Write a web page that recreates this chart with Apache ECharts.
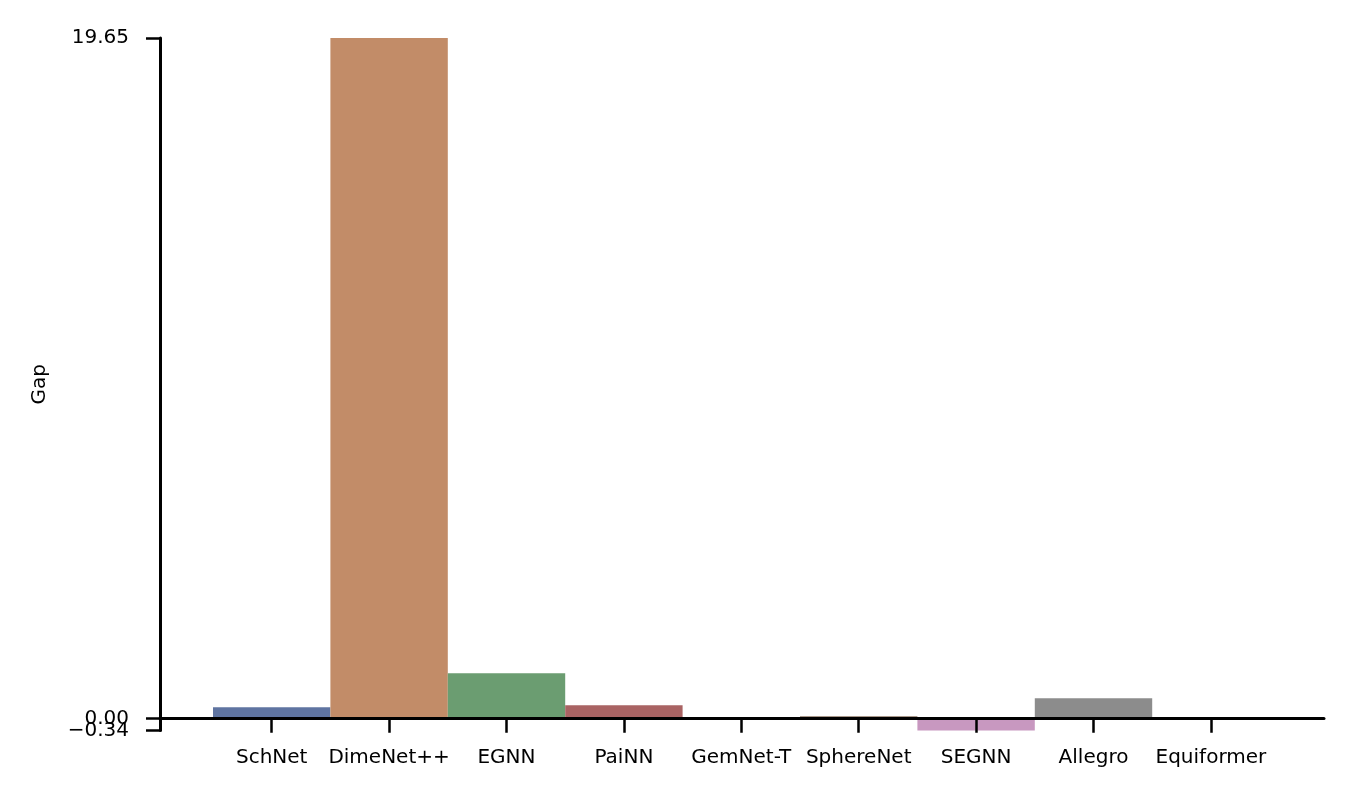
<!DOCTYPE html>
<html>
<head>
<meta charset="utf-8">
<script src="https://cdn.jsdelivr.net/npm/echarts@6/dist/echarts.min.js"></script>
<style>
html,body{margin:0;padding:0;background:#fff;}
#chart{width:1352px;height:798px;}
</style>
</head>
<body>
<div id="chart"></div>
<script>
const categories = ['SchNet','DimeNet++','EGNN','PaiNN','GemNet-T','SphereNet','SEGNN','Allegro','Equiformer'];
const gapValues = [0.33, 19.65, 1.31, 0.39, 0, 0.07, -0.34, 0.59, 0];
const barColors = ['#5f74a1','#c28c68','#6b9d71','#a96363','#8578aa','#8a7463','#c898c0','#8c8c8c','#bfb27a'];
const yTickEnds = [-0.34, 19.65];
const yTickZero = [0];
const yMin = -0.34, yMax = 19.65;

const FONT = 'DejaVu Sans';
const FS = 20;

const chart = echarts.init(document.getElementById('chart'), null, {renderer:'canvas'});
const fmt = v => (v < 0 ? '\u2212' + Math.abs(v).toFixed(2) : v.toFixed(2));

const yAxisStyle = (vals, showLine) => ({
  type: 'value', gridIndex: 1, min: yMin, max: yMax, position: 'left', offset: 0,
  axisLine: {show: showLine, onZero: false, lineStyle: {color: '#000', width: 3}},
  axisTick: {show: true, length: 14, customValues: vals, lineStyle: {color: '#000', width: 2.5}},
  axisLabel: {show: true, margin: 31, customValues: vals, formatter: fmt,
              showMinLabel: true, showMaxLabel: true, hideOverlap: false,
              color: '#000', fontFamily: FONT, fontSize: FS},
  splitLine: {show: false},
  z: 5
});

const yMain = yAxisStyle(yTickEnds, true);
yMain.name = 'Gap';
yMain.nameLocation = 'middle';
yMain.nameGap = 110;
yMain.nameTextStyle = {color: '#000', fontFamily: FONT, fontSize: FS};

chart.setOption({
  backgroundColor: '#ffffff',
  animation: false,
  grid: [
    {left: 213, right: 82.4, top: 38, bottom: 67.5},
    {left: 160, right: 28, top: 38, bottom: 67.5}
  ],
  xAxis: [
    {
      type: 'category', gridIndex: 0, data: categories,
      boundaryGap: true,
      axisLine: {show: true, onZero: true, lineStyle: {color: '#000', width: 3}},
      axisTick: {show: true, alignWithLabel: true, length: 14, lineStyle: {color: '#000', width: 2.5}},
      axisLabel: {show: true, interval: 0, margin: 17, color: '#000', fontFamily: FONT, fontSize: FS},
      splitLine: {show: false},
      z: 5
    },
    {
      type: 'value', gridIndex: 1, min: 0, max: 1,
      axisLine: {show: true, onZero: true, onZeroAxisIndex: 1, lineStyle: {color: '#000', width: 3}},
      axisTick: {show: false}, axisLabel: {show: false}, splitLine: {show: false},
      z: 5
    }
  ],
  yAxis: [
    {type: 'value', gridIndex: 0, min: yMin, max: yMax, show: false, splitLine: {show: false}},
    yMain,
    yAxisStyle(yTickZero, false)
  ],
  series: [
    {
      type: 'bar', xAxisIndex: 0, yAxisIndex: 0,
      barWidth: '100%', barCategoryGap: '0%',
      data: gapValues.map((v, i) => ({value: v, itemStyle: {color: barColors[i]}})),
      z: 2
    },
    {type: 'scatter', xAxisIndex: 1, yAxisIndex: 1, data: [], silent: true},
    {type: 'scatter', xAxisIndex: 1, yAxisIndex: 2, data: [], silent: true}
  ]
});
</script>
</body>
</html>
